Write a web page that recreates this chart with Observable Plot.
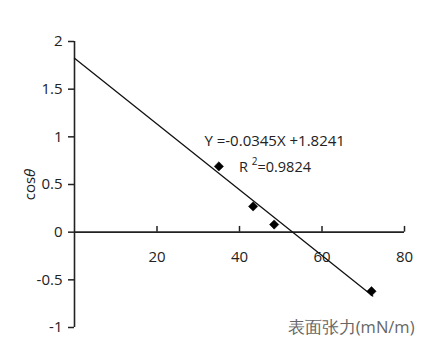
<!DOCTYPE html>
<html><head><meta charset="utf-8">
<script src="https://cdn.jsdelivr.net/npm/d3@7"></script>
<script src="https://cdn.jsdelivr.net/npm/@observablehq/plot@0.6"></script>
<style>body{margin:0;background:#fff;} svg{font-family:"Open Sans",sans-serif;}</style>
</head><body><div id="chart"></div>
<script>
const xVals = [35, 43.3, 48.4, 72];
const yVals = [0.69, 0.27, 0.08, -0.62];
const slope = -0.0345, intercept = 1.8241;
const fitX = [0, 72.3];
const xTicks = [20, 40, 60, 80];
const yTicks = [-1, -0.5, 0, 0.5, 1, 1.5, 2];
const eqText = "Y =-0.0345X +1.8241";
const r2Text = "=0.9824";
const xLabel = "表面张力(mN/m)";

const pts = xVals.map((x, i) => ({x, y: yVals[i]}));
const fit = fitX.map(x => ({x, y: slope * x + intercept}));

const plot = Plot.plot({
  width: 437, height: 344,
  marginLeft: 74, marginRight: 33, marginTop: 41, marginBottom: 17,
  x: {domain: [0, 80]},
  y: {domain: [-1, 2]},
  style: {fontSize: "14px", color: "#222", fontFamily: "'Open Sans', sans-serif"},
  marks: [
    Plot.axisX({ticks: [], label: null}),
    Plot.axisY({ticks: yTicks, tickSize: 6, tickPadding: 6, tickFormat: d => d.toString(),
      label: "cosθ", labelAnchor: "center", labelOffset: 50, labelArrow: false, fontSize: 15, stroke: "#222", strokeWidth: 1.5}),
    Plot.ruleX([0], {y1: -1, y2: 2, stroke: "#222", strokeWidth: 1.6}),
    Plot.ruleY([0], {x1: 0, x2: 80, stroke: "#222", strokeWidth: 1.6}),
    Plot.ruleX(xTicks, {y1: 0, y2: 0.06, stroke: "#222", strokeWidth: 1.5}),
    Plot.text(xTicks, {x: d => d, y: 0, dy: 25, text: d => String(d), fontSize: 15, fill: "#222"}),
    Plot.line(fit, {x: "x", y: "y", stroke: "#111", strokeWidth: 1.3}),
    Plot.dot(pts, {x: "x", y: "y", symbol: "diamond2", r: 4.2, fill: "#000", stroke: "#000", strokeWidth: 0.5}),
    Plot.text([eqText], {x: 31.5, y: 0.95, text: d => d, textAnchor: "start", fontSize: 15, fill: "#222"}),
    Plot.text([xLabel], {frameAnchor: "bottom-right", dx: 10, dy: 0, text: d => d, fontSize: 16.5, fill: "#666", lineAnchor: "middle"})
  ]
});
document.getElementById("chart").appendChild(plot);

// R² annotation with superscript
const svg = d3.select(plot);
const xs = plot.scale("x"), ys = plot.scale("y");
const t = svg.append("text")
  .attr("x", xs.apply(40)).attr("y", ys.apply(0.67))
  .attr("font-size", 14.5).attr("fill", "#222")
  .attr("text-anchor", "start")
  .attr("font-family", "'Open Sans', sans-serif")
  .attr("dominant-baseline", "middle");
t.append("tspan").text("R ");
t.append("tspan").text("2").attr("font-size", 10).attr("dy", -6);
t.append("tspan").text(r2Text).attr("dy", 6);

// italic theta in y label
svg.selectAll("g[aria-label='y-axis label'] text").each(function() {
  const el = d3.select(this);
  const txt = el.text();
  el.attr("fill", "#222");
  if (txt.includes("θ")) {
    el.text("");
    el.append("tspan").text(txt.replace("θ", ""));
    el.append("tspan").text("θ").attr("font-style", "italic");
  }
});
</script></body></html>
